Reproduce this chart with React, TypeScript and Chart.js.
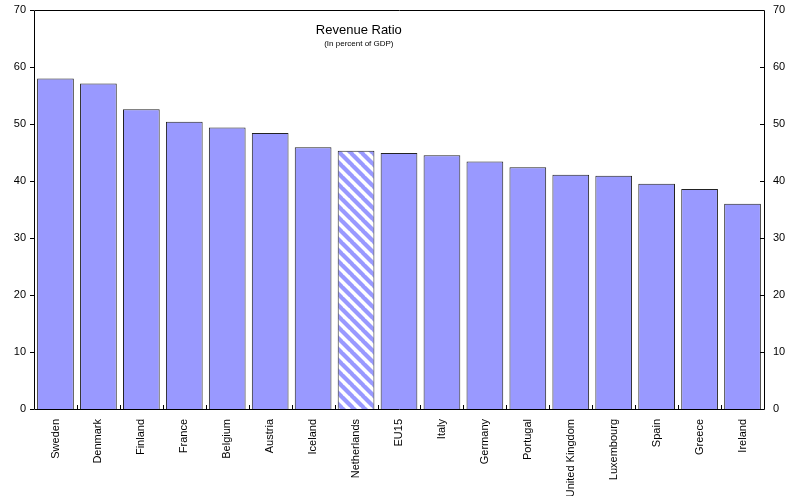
import React, { useEffect, useRef } from "react";
import { Chart, registerables } from "chart.js";

Chart.register(...registerables);

const categories = [
  "Sweden", "Denmark", "Finland", "France", "Belgium", "Austria", "Iceland",
  "Netherlands", "EU15", "Italy", "Germany", "Portugal", "United Kingdom",
  "Luxembourg", "Spain", "Greece", "Ireland",
];
const revenueRatio = [58.0, 57.1, 52.6, 50.4, 49.4, 48.4, 45.9, 45.3, 44.9, 44.5, 43.4, 42.4, 41.1, 40.9, 39.5, 38.6, 36.0];
const highlighted = "Netherlands";
const title = "Revenue Ratio";
const subtitle = "(In percent of GDP)";
const yMin = 0;
const yMax = 70;
const yStep = 10;

const FONT = "'Liberation Sans', Arial, sans-serif";
const BAR_COLOR = "#9999FF";

function makeHatch(ctx: CanvasRenderingContext2D): CanvasPattern | string {
  const size = 11;
  const c = document.createElement("canvas");
  c.width = size;
  c.height = size;
  const g = c.getContext("2d");
  if (!g) return BAR_COLOR;
  g.fillStyle = "#ffffff";
  g.fillRect(0, 0, size, size);
  g.strokeStyle = BAR_COLOR;
  g.lineWidth = 4.2;
  for (let k = -1; k <= 1; k++) {
    g.beginPath();
    g.moveTo(k * size - 1, -1);
    g.lineTo(k * size + size + 1, size + 1);
    g.stroke();
  }
  return ctx.createPattern(c, "repeat") || BAR_COLOR;
}

function zeroPadding(s: any) {
  s.paddingTop = 0;
  s.paddingBottom = 0;
  s.paddingLeft = 0;
  s.paddingRight = 0;
}

const framePlugin = {
  id: "frame",
  afterDraw(chart: any) {
    const { ctx, chartArea } = chart;
    const { left, right, top, bottom } = chartArea;
    const y = chart.scales.y;
    const x = chart.scales.x;
    ctx.save();
    ctx.strokeStyle = "#000";
    ctx.lineWidth = 1;
    ctx.beginPath();
    ctx.rect(Math.round(left) + 0.5, Math.round(top) + 0.5, Math.round(right - left), Math.round(bottom - top));
    ctx.stroke();
    ctx.beginPath();
    for (let v = yMin; v <= yMax; v += yStep) {
      const py = Math.round(y.getPixelForValue(v)) + 0.5;
      ctx.moveTo(left - 4, py);
      ctx.lineTo(left, py);
      ctx.moveTo(right - 4, py);
      ctx.lineTo(right, py);
    }
    const n = categories.length;
    for (let i = 0; i <= n; i++) {
      const px = Math.round(x.getPixelForValue(i - 0.5)) + 0.5;
      ctx.moveTo(px, bottom);
      ctx.lineTo(px, bottom - 4);
    }
    ctx.stroke();
    const cx = left + (right - left) * 0.445;
    ctx.fillStyle = "#000";
    ctx.textAlign = "center";
    ctx.textBaseline = "middle";
    ctx.font = `13px ${FONT}`;
    ctx.fillText(title, cx, top + 20);
    ctx.font = `8px ${FONT}`;
    ctx.fillText(subtitle, cx, top + 34);
    ctx.restore();
  },
};

export default function App() {
  const ref = useRef<HTMLCanvasElement | null>(null);
  useEffect(() => {
    document.body.style.margin = "0";
    const canvas = ref.current;
    if (!canvas) return;
    const ctx = canvas.getContext("2d")!;
    const hatch = makeHatch(ctx);
    const colors = categories.map((c) => (c === highlighted ? hatch : BAR_COLOR));
    const chart = new Chart(canvas, {
      type: "bar",
      data: {
        labels: categories,
        datasets: [
          {
            data: revenueRatio,
            backgroundColor: colors as any,
            borderColor: "#222",
            borderWidth: 1,
            borderSkipped: "bottom",
            barPercentage: 0.855,
            categoryPercentage: 1,
            yAxisID: "y",
          },
        ],
      },
      options: {
        responsive: false,
        animation: false,
        layout: { padding: { top: 10, left: 0, right: 0, bottom: 0 } },
        plugins: { legend: { display: false }, tooltip: { enabled: false }, title: { display: false } },
        scales: {
          x: {
            grid: { display: false },
            border: { display: false },
            ticks: {
              autoSkip: false,
              minRotation: 90,
              maxRotation: 90,
              padding: 2,
              color: "#000",
              font: { family: FONT, size: 11 },
            },
            afterFit(s: any) {
              s.height = 87;
              zeroPadding(s);
            },
          },
          y: {
            position: "left",
            min: yMin,
            max: yMax,
            grid: { display: false, drawTicks: false },
            border: { display: false },
            ticks: { stepSize: yStep, padding: 8, color: "#000", font: { family: FONT, size: 11 } },
            afterFit(s: any) {
              s.width = 34;
              zeroPadding(s);
            },
          },
          y2: {
            position: "right",
            min: yMin,
            max: yMax,
            grid: { display: false, drawTicks: false },
            border: { display: false },
            ticks: { stepSize: yStep, padding: 9, color: "#000", font: { family: FONT, size: 11 } },
            afterFit(s: any) {
              s.width = 24;
              zeroPadding(s);
            },
          },
        },
      },
      plugins: [framePlugin],
    });
    return () => chart.destroy();
  }, []);
  return <canvas ref={ref} width={788} height={496} style={{ display: "block" }} />;
}
